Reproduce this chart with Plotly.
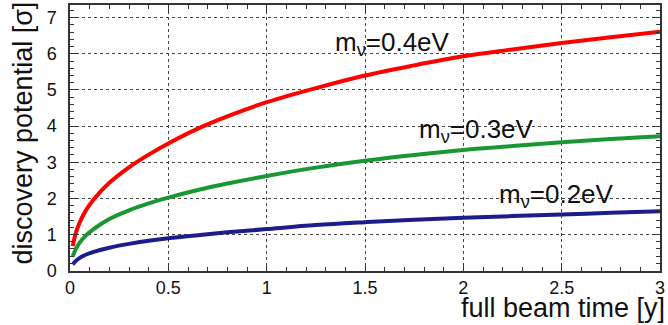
import plotly.graph_objects as go

# full beam time [y]
beam_time = [0.014, 0.03, 0.05, 0.08, 0.12, 0.2, 0.3, 0.4, 0.5, 0.65, 0.8,
             1.0, 1.25, 1.5, 1.75, 2.0, 2.25, 2.5, 2.75, 3.0]

# discovery potential [sigma] per neutrino mass
sig_04 = [0.68, 1.05, 1.34, 1.66, 1.97, 2.43, 2.86, 3.21, 3.52, 3.93, 4.27,
          4.66, 5.05, 5.40, 5.68, 5.93, 6.12, 6.30, 6.46, 6.61]
sig_03 = [0.40, 0.60, 0.78, 0.97, 1.15, 1.43, 1.67, 1.86, 2.02, 2.23, 2.41,
          2.62, 2.85, 3.04, 3.20, 3.34, 3.45, 3.55, 3.64, 3.72]
sig_02 = [0.17, 0.27, 0.355, 0.44, 0.52, 0.635, 0.74, 0.825, 0.895, 0.98, 1.06,
          1.15, 1.26, 1.34, 1.41, 1.46, 1.51, 1.55, 1.60, 1.64]

series = [
    ("m<sub>ν</sub>=0.4eV", sig_04, "#ff0000", 1.337, 6.29),
    ("m<sub>ν</sub>=0.3eV", sig_03, "#1a9632", 1.763, 3.87),
    ("m<sub>ν</sub>=0.2eV", sig_02, "#1c1c8c", 2.169, 2.08),
]

x_ticks = [0, 0.5, 1, 1.5, 2, 2.5, 3]
x_labels = ["0", "0.5", "1", "1.5", "2", "2.5", "3"]
y_ticks = [0, 1, 2, 3, 4, 5, 6, 7]

FONT = "Liberation Sans, Arial, sans-serif"

fig = go.Figure()

for name, vals, color, lx, ly in series:
    fig.add_trace(go.Scatter(x=beam_time, y=vals, mode="lines",
                             line=dict(color=color, width=4, shape="spline"),
                             name=name, showlegend=False))
    fig.add_annotation(x=lx, y=ly, xref="x", yref="y", text=name,
                       showarrow=False, xanchor="left", yanchor="middle",
                       font=dict(family=FONT, size=26, color="#111"))

# axis titles placed like ROOT (right / top aligned)
fig.add_annotation(x=1.012, y=-0.138, xref="paper", yref="paper",
                   text="full beam time [y]", showarrow=False,
                   xanchor="right", yanchor="middle",
                   font=dict(family=FONT, size=27, color="#111"))
fig.add_annotation(x=-0.08, y=0.52, xref="paper", yref="paper",
                   text="discovery potential [σ]", showarrow=False, textangle=-90,
                   xanchor="center", yanchor="middle",
                   font=dict(family=FONT, size=27, color="#111"))

axis_common = dict(
    showline=True, linecolor="#333", linewidth=1.5, mirror="allticks",
    ticks="inside", ticklen=8, tickcolor="#333",
    showgrid=True, gridcolor="#444", griddash="dot", gridwidth=1,
    zeroline=False,
    tickfont=dict(family=FONT, size=18, color="#111"),
)

fig.update_layout(
    width=668, height=325,
    margin=dict(l=70, r=8, t=3, b=54),
    paper_bgcolor="white", plot_bgcolor="white",
    xaxis=dict(range=[0, 3], tickvals=x_ticks, ticktext=x_labels,
               minor=dict(dtick=0.1, ticks="inside", ticklen=4, tickcolor="#333", showgrid=False),
               **axis_common),
    yaxis=dict(range=[-0.01, 7.35], tickvals=y_ticks, ticklabelstandoff=8,
               minor=dict(dtick=0.2, ticks="inside", ticklen=4, tickcolor="#333", showgrid=False),
               **axis_common),
)

# page body has a default 8px margin; drop it so the figure sits at the corner
fig.write_html("out.html", config={"displayModeBar": False},
               post_script="document.body.style.margin='0';")
